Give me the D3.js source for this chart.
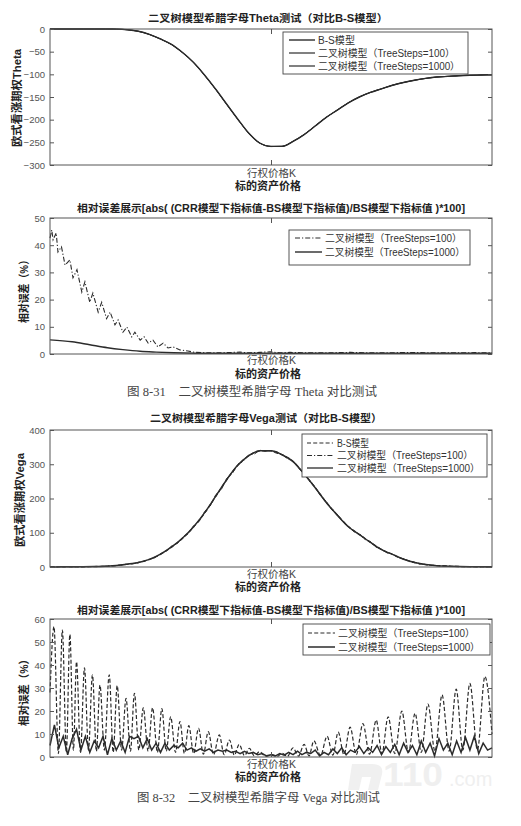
<!DOCTYPE html>
<html>
<head>
<meta charset="utf-8">
<script src="https://cdn.jsdelivr.net/npm/d3@7"></script>
<style>
  body { margin: 0; background: #fff; }
  svg { display: block; }
</style>
</head>
<body>
<div id="chart"></div>
<script>
// ---- data (x = underlying price, K at 50) ----
const strikeK = 50;
const xTickLabel = "行权价格K";

const thetaTicks = [-300, -250, -200, -150, -100, -50, 0];
const errThetaTicks = [0, 10, 20, 30, 40, 50];
const vegaTicks = [0, 100, 200, 300, 400];
const errVegaTicks = [0, 10, 20, 30, 40, 50, 60];

const thetaX = [0,2.5,5,7.5,10,12.5,15,17.5,20,22.5,25,27.5,30,32.5,35,37.5,40,42.5,45,47.5,50,52.5,55,57.5,60,62.5,65,67.5,70,72.5,75,77.5,80,82.5,85,87.5,90,92.5,95,97.5,100];
const thetaBS = [0,0,0,0,0,0,-0.2,-1.5,-5,-12,-22,-34,-52,-74,-102,-133,-166,-199,-230,-252,-259,-259,-248,-233,-214,-195,-179,-163,-150,-140,-132,-124,-118,-113,-109,-106,-104.5,-103,-102,-101.5,-101];
const thetaTree100 = [0,0,0,0,0,0,-0.3,-1.6,-5.2,-12.3,-22.4,-34.5,-52.6,-74.4,-102.8,-133.5,-167,-199.6,-231,-251.5,-259.4,-258.6,-247.3,-232.5,-213.4,-194.6,-178.5,-162.6,-149.6,-139.6,-131.7,-123.8,-117.8,-112.8,-108.9,-105.9,-104.4,-102.9,-101.9,-101.4,-101];
const thetaTree1000 = [0,0,0,0,0,0,-0.2,-1.5,-5,-12,-22.1,-34.1,-52.1,-74.1,-102.1,-133.1,-166.2,-199.1,-230.1,-252,-259,-259,-248,-233,-214,-195,-179,-163,-150,-140,-132,-124,-118,-113,-109,-106,-104.5,-103,-102,-101.5,-101];

const thetaErrX100 = [0,0.4,0.7,1.4,1.8,2.6,3.4,4.5,5.2,6.1,7.2,7.9,9.0,9.7,10.9,11.7,12.8,13.6,14.7,15.4,16.5,17.4,18.5,19.2,20.4,21.3,22.2,23.3,24.4,25.6,26.7,27.8,29.4,31.2,32.8,36.2,40,43,45,47.5,49.8,52,54.3,58,61,65,68,72,74.7,79,83.7,88,92.8,96,100];
const thetaErr100 = [42.6,45.6,42,44.5,37.5,39.4,32.7,34.6,28,31,22.8,26.5,19,22.4,15.4,19,13,15.4,10.7,12.5,8,9.9,6.3,8,5.1,6.3,4,5.1,2.6,4,2.2,2.6,1.5,1.1,0.6,0.4,0.5,0.7,0.4,0.6,0.8,0.4,0.6,0.4,0.4,0.5,0.6,0.4,0.4,0.5,0.5,0.4,0.4,0.5,0.4];
const thetaErrX1000 = [0,5,9,13,16.5,20.4,24,28,33,40,50,60,75,100];
const thetaErr1000 = [5.2,4.5,3.4,2.3,1.6,1.0,0.7,0.45,0.3,0.25,0.25,0.25,0.25,0.25];

const vegaX = [0,2.5,5,7.5,10,12.5,15,17.5,20,22.5,25,27.5,30,32.5,35,37.5,40,42.5,45,47.5,50,52.5,55,57.5,60,62.5,65,67.5,70,72.5,75,77.5,80,82.5,85,87.5,90,92.5,95,97.5,100];
const vegaBS = [0.3,0.4,0.5,0.8,1.3,2.2,4,8,13,22,37,58,84,117,158,206,255,297,325,339,339,328,308,272,232,189,152,118,95,72,51,37,23,13,7,4,2.5,1.5,1,0.6,0.4];
const vegaTree1000 = [0.3,0.4,0.5,0.8,1.3,2.3,4.1,8.2,13.3,22.4,37.6,58.5,84.6,117.8,158.7,206.9,255.6,297.5,325.4,339.2,339.1,327.6,307.5,271.4,231.3,188.5,151.4,117.6,94.6,71.6,50.7,36.8,22.8,12.9,7,4,2.5,1.5,1,0.6,0.4];
const vegaX100 = [0,1.25,2.5,3.75,5,6.25,7.5,8.75,10,11.25,12.5,13.75,15,16.25,17.5,18.75,20,21.25,22.5,23.75,25,26.25,27.5,28.75,30,31.25,32.5,33.75,35,36.25,37.5,38.75,40,41.25,42.5,43.75,45,46.25,47.5,48.75,50,51.25,52.5,53.75,55,56.25,57.5,58.75,60,61.25,62.5,63.75,65,66.25,67.5,68.75,70,71.25,72.5,73.75,75,76.25,77.5,78.75,80,81.25,82.5,83.75,85,86.25,87.5,88.75,90,91.25,92.5,93.75,95,96.25,97.5,98.75,100];
const vegaTree100 = [0.35,0.3,0.45,0.4,0.55,0.6,0.9,0.9,1.5,1.6,2.5,2.8,4.5,5.4,8.8,9.6,14,16,23.5,27,39,45,61,68,87,97,121,133,162,178,211,226,259,273,300,309,328,330,341,338,340,332,329,316,309,288,274,249,234,207,191,167,154,132,120,103,97,80,74,58,53,41,38,27,24,16,14,8.5,7.5,4.8,4.3,2.8,2.7,1.8,1.6,1.1,1.05,0.7,0.65,0.45,0.42];

const vegaErrX100 = [0,0.9,1.9,2.8,3.7,4.5,5.3,6.0,6.9,7.8,8.7,9.6,10.5,11.3,12.3,13.4,14.3,15.2,16.2,17.2,18.2,19.1,20.1,21.1,22.2,23.2,24.3,25.3,26.3,27.3,28.4,29.4,30.4,31.4,32.5,33.6,34.7,35.8,37.0,38.3,39.4,40.6,41.7,42.8,44.0,45.1,46.2,47.4,48.8,50.2,51.4,52.5,53.7,55.0,56.2,57.5,58.6,59.7,61.2,62.7,64.0,65.2,66.5,67.9,69.3,70.8,72.3,73.8,75.1,76.5,78.0,79.6,81.1,82.6,84.0,85.5,87.1,88.7,90.3,91.9,93.4,95.0,96.7,98.4,100];
const vegaErr100 = [28,56.7,1.5,55.2,2,53.3,3,41.4,2,38.8,3,35.7,2.5,31.3,3,35.7,2,31,3,25.5,2.5,27.7,3,21.4,2.5,21.4,2,21,2.5,17.5,2,15.4,1.5,13.6,1.5,12.5,1.2,11,1,9.6,1,7.4,0.8,5.5,0.6,3.8,0.5,2.3,0.3,1.0,0.2,1.6,0.3,4,0.4,5.5,0.5,7,0.6,9,0.8,10.8,1,13,1,14.5,1.2,16,1.5,17.5,1.5,20,2,19,2,23,2.5,27,2.5,29.5,3,32,3,35,10];
// one value per unit step of x (0..100)
const vegaErr1000 = [5,14,4,9,1,8,12,3,9,2,7,4,9,1,8,3,7,2,9,8,9,4,8,3,6,2,6,3,5,4,6,3,4,2.5,3.5,2.5,3.5,2,3,2.5,3,2,2.5,1.5,2.5,1.5,2,1,1.5,0.5,1,0.5,1.5,0.8,2,1,2.5,1,2,1.5,3,0.5,2,1,3.5,1.5,4,1,3,2,4.5,1.5,4,2,5,1,4.5,2,5.5,1,6,2,5,1,7,2,6,0.5,8,3,6,1,7,2,8.5,3,9,1.5,6,3,4];

// ---- layout ----
const width = 521, height = 826;
const plotLeft = 50, plotRight = 492;
const ink = "#2b2b2b";
const sansFont = '"Liberation Sans", "Noto Sans CJK SC", sans-serif';
const serifFont = '"Liberation Serif", "Noto Sans CJK SC", serif';
const DASH = "4,2.2";
const DASHDOT = "5,2,1.2,2";

const svg = d3.select("#chart").append("svg")
  .attr("width", width)
  .attr("height", height);

svg.append("rect").attr("width", width).attr("height", height).attr("fill", "#fff");

// faint watermark of the scan (logo mark + site name)
svg.append("path")
  .attr("d", "M352,764 L372,764 Q384,764 382,774 L378,790 L368,790 L371,777 L362,777 L359,790 L348,790 Z")
  .attr("fill", "#f0f0f0");
svg.append("text").attr("x", 383).attr("y", 786)
  .attr("font-family", sansFont).attr("font-weight", "bold").attr("font-size", 34)
  .attr("fill", "#efefef").attr("textLength", 60).attr("lengthAdjust", "spacingAndGlyphs").text("110");
svg.append("text").attr("x", 449).attr("y", 786)
  .attr("font-family", sansFont).attr("font-size", 20)
  .attr("fill", "#efefef").text(".com");

const x = d3.scaleLinear().domain([0, 100]).range([plotLeft, plotRight]);

function drawPanel(cfg) {
  const y = d3.scaleLinear().domain(cfg.domain).range([cfg.bottom, cfg.top]);
  const g = svg.append("g");

  // title
  g.append("text")
    .attr("x", cfg.titleX).attr("y", cfg.titleY)
    .attr("text-anchor", "middle")
    .attr("font-family", sansFont).attr("font-weight", "bold").attr("font-size", 10.5)
    .attr("fill", "#222")
    .attr("textLength", cfg.titleLen).attr("lengthAdjust", "spacingAndGlyphs")
    .text(cfg.title);

  // series
  cfg.series.forEach((s) => {
    const line = d3.line()
      .x((d, i) => x(s.x ? s.x[i] : i))
      .y((d) => y(d));
    if (s.curve) line.curve(s.curve);
    g.append("path")
      .datum(s.y)
      .attr("fill", "none")
      .attr("stroke", ink)
      .attr("stroke-width", s.w)
      .attr("stroke-dasharray", s.dash || null)
      .attr("d", line);
  });

  // axes (ticks pointing inward, MATLAB style)
  const left = g.append("g")
    .attr("transform", `translate(${plotLeft},0)`)
    .call(d3.axisLeft(y).tickValues(cfg.ticks).tickSizeInner(-4).tickSizeOuter(0).tickPadding(5));
  left.selectAll("text").attr("font-family", sansFont).attr("font-size", 9.5).attr("fill", "#555");

  g.append("g")
    .attr("transform", `translate(${plotRight},0)`)
    .call(d3.axisRight(y).tickValues(cfg.ticks).tickSizeInner(-4).tickSizeOuter(0).tickFormat(""));

  const bottom = g.append("g")
    .attr("transform", `translate(0,${cfg.bottom})`)
    .call(d3.axisBottom(x).tickValues([strikeK]).tickFormat(() => xTickLabel)
      .tickSizeInner(-5).tickSizeOuter(0).tickPadding(cfg.tickPad));
  bottom.selectAll("text").attr("font-family", sansFont).attr("font-size", 10.5).attr("fill", "#444");

  g.append("g")
    .attr("transform", `translate(0,${cfg.top})`)
    .call(d3.axisTop(x).tickValues([strikeK]).tickSizeInner(-5).tickSizeOuter(0).tickFormat(""));

  g.selectAll(".domain").remove();
  g.selectAll(".tick line").attr("stroke", "#555");

  g.append("rect")
    .attr("x", plotLeft).attr("y", cfg.top)
    .attr("width", plotRight - plotLeft).attr("height", cfg.bottom - cfg.top)
    .attr("fill", "none").attr("stroke", "#555").attr("stroke-width", 1);

  // x label
  g.append("text")
    .attr("x", 268).attr("y", cfg.xlabelY)
    .attr("text-anchor", "middle")
    .attr("font-family", sansFont).attr("font-weight", "bold").attr("font-size", 11)
    .attr("fill", "#222")
    .text("标的资产价格");

  // y label
  g.append("text")
    .attr("transform", `translate(${cfg.ylabelX},${cfg.ylabelY}) rotate(-90)`)
    .attr("text-anchor", "middle").attr("dy", "0.35em")
    .attr("font-family", sansFont).attr("font-weight", "bold").attr("font-size", 11)
    .attr("fill", "#222")
    .attr("textLength", cfg.ylabelLen).attr("lengthAdjust", "spacingAndGlyphs")
    .text(cfg.ylabel);

  // legend
  const L = cfg.legend;
  g.append("rect")
    .attr("x", L.x0).attr("y", L.y0)
    .attr("width", L.x1 - L.x0).attr("height", L.y1 - L.y0)
    .attr("fill", "#fff").attr("stroke", "#444").attr("stroke-width", 0.9);
  L.items.forEach((it, i) => {
    const yy = L.rows[i];
    g.append("line")
      .attr("x1", L.lx0).attr("x2", L.lx1).attr("y1", yy).attr("y2", yy)
      .attr("stroke", ink).attr("stroke-width", it.w)
      .attr("stroke-dasharray", it.dash || null);
    g.append("text")
      .attr("x", L.tx).attr("y", yy + 3.6)
      .attr("font-family", sansFont).attr("font-size", 10)
      .attr("fill", "#333")
      .attr("textLength", it.len).attr("lengthAdjust", "spacingAndGlyphs")
      .text(it.label);
  });

  if (cfg.caption) {
    g.append("text")
      .attr("x", cfg.caption.x).attr("y", cfg.caption.y)
      .attr("font-family", serifFont).attr("font-size", 12)
      .attr("fill", "#444")
      .attr("textLength", cfg.caption.len).attr("lengthAdjust", "spacingAndGlyphs")
      .text(cfg.caption.text);
  }
}

const errTitle = "相对误差展示[abs( (CRR模型下指标值-BS模型下指标值)/BS模型下指标值 )*100]";

// Panel 1: Theta
drawPanel({
  top: 29, bottom: 165, domain: [-300, 0], ticks: thetaTicks, tickPad: 5,
  title: "二叉树模型希腊字母Theta测试（对比B-S模型）", titleX: 268, titleY: 22, titleLen: 240,
  ylabel: "欧式看涨期权Theta", ylabelX: 17, ylabelY: 98, ylabelLen: 98,
  xlabelY: 190,
  series: [
    { x: thetaX, y: thetaBS, w: 1.4, curve: d3.curveMonotoneX },
    { x: thetaX, y: thetaTree100, w: 1, curve: d3.curveMonotoneX },
    { x: thetaX, y: thetaTree1000, w: 1, curve: d3.curveMonotoneX }
  ],
  legend: {
    x0: 283, x1: 468, y0: 32, y1: 74, lx0: 289, lx1: 315, tx: 318, rows: [40, 53, 66],
    items: [
      { label: "B-S模型", w: 1.4, len: 37 },
      { label: "二叉树模型（TreeSteps=100）", w: 1.2, len: 137 },
      { label: "二叉树模型（TreeSteps=1000）", w: 1.2, len: 142 }
    ]
  }
});

// Panel 2: Theta relative error
drawPanel({
  top: 218, bottom: 354, domain: [0, 50], ticks: errThetaTicks, tickPad: 3,
  title: errTitle, titleX: 271, titleY: 212, titleLen: 388,
  ylabel: "相对误差（%）", ylabelX: 24, ylabelY: 289, ylabelLen: 68,
  xlabelY: 378,
  series: [
    { x: thetaErrX100, y: thetaErr100, w: 1.1, dash: DASHDOT },
    { x: thetaErrX1000, y: thetaErr1000, w: 1.4, curve: d3.curveMonotoneX }
  ],
  legend: {
    x0: 289, x1: 470, y0: 230, y1: 265, lx0: 295, lx1: 322, tx: 325, rows: [238, 252],
    items: [
      { label: "二叉树模型（TreeSteps=100）", w: 1.1, dash: DASHDOT, len: 137 },
      { label: "二叉树模型（TreeSteps=1000）", w: 1.4, len: 140 }
    ]
  },
  caption: { x: 127, y: 396, len: 250, text: "图 8-31\u3000二叉树模型希腊字母 Theta 对比测试" }
});

// Panel 3: Vega
drawPanel({
  top: 430, bottom: 567, domain: [0, 400], ticks: vegaTicks, tickPad: 4,
  title: "二叉树模型希腊字母Vega测试（对比B-S模型）", titleX: 266, titleY: 422, titleLen: 232,
  ylabel: "欧式看涨期权Vega", ylabelX: 20, ylabelY: 500, ylabelLen: 94,
  xlabelY: 591,
  series: [
    { x: vegaX, y: vegaBS, w: 1.3, dash: DASH, curve: d3.curveMonotoneX },
    { x: vegaX100, y: vegaTree100, w: 1, dash: DASHDOT },
    { x: vegaX, y: vegaTree1000, w: 1.5, curve: d3.curveMonotoneX }
  ],
  legend: {
    x0: 302, x1: 487, y0: 434, y1: 477, lx0: 307, lx1: 333, tx: 337, rows: [443, 455.5, 468],
    items: [
      { label: "B-S模型", w: 1.2, dash: DASH, len: 32 },
      { label: "二叉树模型（TreeSteps=100）", w: 1, dash: DASHDOT, len: 136 },
      { label: "二叉树模型（TreeSteps=1000）", w: 1.3, len: 143 }
    ]
  }
});

// Panel 4: Vega relative error
drawPanel({
  top: 619, bottom: 757, domain: [0, 60], ticks: errVegaTicks, tickPad: 4,
  title: errTitle, titleX: 271, titleY: 614, titleLen: 388,
  ylabel: "相对误差（%）", ylabelX: 24, ylabelY: 690, ylabelLen: 72,
  xlabelY: 781,
  series: [
    { x: vegaErrX100, y: vegaErr100, w: 1.2, dash: DASH, curve: d3.curveMonotoneX },
    { y: vegaErr1000, w: 1.5 }
  ],
  legend: {
    x0: 303, x1: 490, y0: 624, y1: 655, lx0: 308, lx1: 335, tx: 338, rows: [633, 647],
    items: [
      { label: "二叉树模型（TreeSteps=100）", w: 1.2, dash: DASH, len: 137 },
      { label: "二叉树模型（TreeSteps=1000）", w: 1.5, len: 142 }
    ]
  },
  caption: { x: 137, y: 802, len: 243, text: "图 8-32\u3000二叉树模型希腊字母 Vega 对比测试" }
});
</script>
</body>
</html>
